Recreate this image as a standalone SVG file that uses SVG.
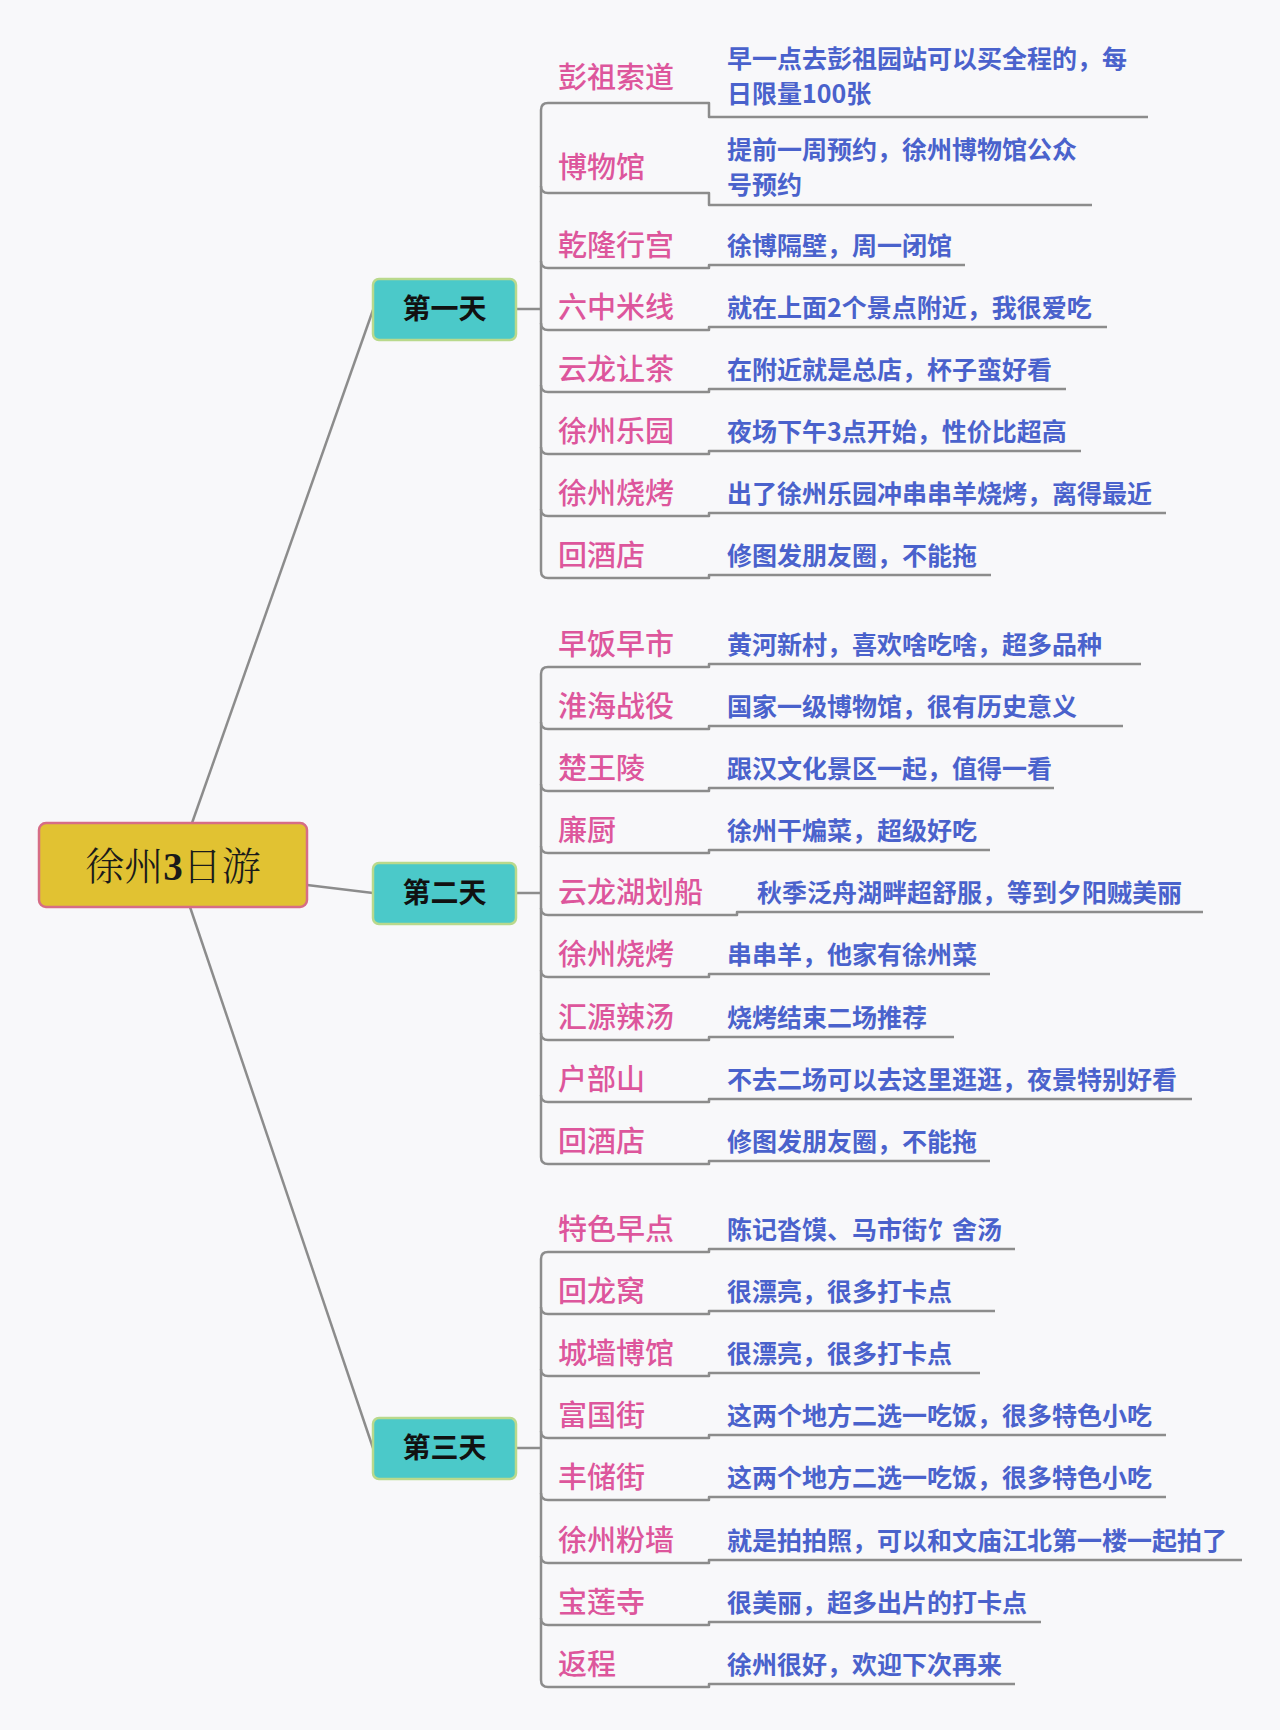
<svg xmlns="http://www.w3.org/2000/svg" width="1280" height="1730" viewBox="0 0 1280 1730">
<style>
.ln{fill:none;stroke:#8c8c8c;stroke-width:2.5;stroke-linejoin:round}
.lb{font-family:"Noto Sans CJK SC","Noto Sans",sans-serif;font-size:29px;font-weight:500;fill:#dd569c}
.nt{font-family:"Noto Sans CJK SC","Noto Sans",sans-serif;font-size:25px;font-weight:700;fill:#4a62cc}
.dayb{fill:#4bc9c9;stroke:#b9d98c;stroke-width:2.5}
.dayt{font-family:"Noto Sans CJK SC","Noto Sans",sans-serif;font-size:28px;font-weight:700;fill:#111;text-anchor:middle}
</style>
<rect width="1280" height="1730" fill="#f8f8fa"/>
<g id="connectors">
<path class="ln" d="M192,823 L373,310"/>
<path class="ln" d="M307,885 L373,893"/>
<path class="ln" d="M190,907 L373,1448"/>
<path class="ln" d="M516,309 H541"/>
<path class="ln" d="M516,893 H541"/>
<path class="ln" d="M516,1448 H541"/>
<path class="ln" d="M541,110 V571"/>
<path class="ln" d="M541,674 V1157"/>
<path class="ln" d="M541,1259 V1680"/>
<path class="ln" d="M541,110 Q541,103 548,103 H709 V117 H1148"/>
<path class="ln" d="M541,186 Q541,193 548,193 H709 V205 H1092"/>
<path class="ln" d="M541,261 Q541,268 548,268 H709 V265 H965"/>
<path class="ln" d="M541,323 Q541,330 548,330 H709 V327 H1107"/>
<path class="ln" d="M541,385 Q541,392 548,392 H709 V389 H1066"/>
<path class="ln" d="M541,447 Q541,454 548,454 H709 V451 H1081"/>
<path class="ln" d="M541,509 Q541,516 548,516 H709 V513 H1166"/>
<path class="ln" d="M541,571 Q541,578 548,578 H709 V575 H991"/>
<path class="ln" d="M541,674 Q541,667 548,667 H709 V664 H1141"/>
<path class="ln" d="M541,722 Q541,729 548,729 H709 V726 H1123"/>
<path class="ln" d="M541,784 Q541,791 548,791 H709 V788 H1054"/>
<path class="ln" d="M541,846 Q541,853 548,853 H709 V850 H990"/>
<path class="ln" d="M541,908 Q541,915 548,915 H737 V912 H1203"/>
<path class="ln" d="M541,970 Q541,977 548,977 H709 V974 H990"/>
<path class="ln" d="M541,1033 Q541,1040 548,1040 H709 V1037 H954"/>
<path class="ln" d="M541,1095 Q541,1102 548,1102 H709 V1099 H1192"/>
<path class="ln" d="M541,1157 Q541,1164 548,1164 H709 V1161 H990"/>
<path class="ln" d="M541,1259 Q541,1252 548,1252 H709 V1249 H1015"/>
<path class="ln" d="M541,1307 Q541,1314 548,1314 H709 V1311 H995"/>
<path class="ln" d="M541,1369 Q541,1376 548,1376 H709 V1373 H980"/>
<path class="ln" d="M541,1431 Q541,1438 548,1438 H709 V1435 H1166"/>
<path class="ln" d="M541,1493 Q541,1500 548,1500 H709 V1497 H1166"/>
<path class="ln" d="M541,1556 Q541,1563 548,1563 H709 V1560 H1242"/>
<path class="ln" d="M541,1618 Q541,1625 548,1625 H709 V1622 H1041"/>
<path class="ln" d="M541,1680 Q541,1687 548,1687 H709 V1684 H1015"/>
</g>
<g id="root">
<rect x="39" y="823" width="268" height="84" rx="7" fill="#e1c232" stroke="#d66d86" stroke-width="2.5"/>
<text x="173" y="880" text-anchor="middle" font-family="'Noto Serif CJK SC','Noto Sans CJK SC',serif" font-size="39" font-weight="300" fill="#1a1a1a">徐州<tspan font-family="'Liberation Serif',serif" font-weight="700">3</tspan>日游</text>
</g>
<g id="day1"><rect class="dayb" x="373" y="279" width="143" height="61" rx="6"/><text class="dayt" x="444.5" y="319">第一天</text></g>
<g id="day2"><rect class="dayb" x="373" y="863" width="143" height="61" rx="6"/><text class="dayt" x="444.5" y="903">第二天</text></g>
<g id="day3"><rect class="dayb" x="373" y="1418" width="143" height="61" rx="6"/><text class="dayt" x="444.5" y="1458">第三天</text></g>
<g id="d1-1"><text class="lb" x="558" y="88">彭祖索道</text><text class="nt" x="727" y="68">早一点去彭祖园站可以买全程的，每</text><text class="nt" x="727" y="103">日限量100张</text></g>
<g id="d1-2"><text class="lb" x="558" y="178">博物馆</text><text class="nt" x="727" y="159">提前一周预约，徐州博物馆公众</text><text class="nt" x="727" y="194">号预约</text></g>
<g id="d1-3"><text class="lb" x="558" y="256">乾隆行宫</text><text class="nt" x="727" y="255">徐博隔壁，周一闭馆</text></g>
<g id="d1-4"><text class="lb" x="558" y="318">六中米线</text><text class="nt" x="727" y="317">就在上面2个景点附近，我很爱吃</text></g>
<g id="d1-5"><text class="lb" x="558" y="380">云龙让茶</text><text class="nt" x="727" y="379">在附近就是总店，杯子蛮好看</text></g>
<g id="d1-6"><text class="lb" x="558" y="442">徐州乐园</text><text class="nt" x="727" y="441">夜场下午3点开始，性价比超高</text></g>
<g id="d1-7"><text class="lb" x="558" y="504">徐州烧烤</text><text class="nt" x="727" y="503">出了徐州乐园冲串串羊烧烤，离得最近</text></g>
<g id="d1-8"><text class="lb" x="558" y="566">回酒店</text><text class="nt" x="727" y="565">修图发朋友圈，不能拖</text></g>
<g id="d2-1"><text class="lb" x="558" y="655">早饭早市</text><text class="nt" x="727" y="654">黄河新村，喜欢啥吃啥，超多品种</text></g>
<g id="d2-2"><text class="lb" x="558" y="717">淮海战役</text><text class="nt" x="727" y="716">国家一级博物馆，很有历史意义</text></g>
<g id="d2-3"><text class="lb" x="558" y="779">楚王陵</text><text class="nt" x="727" y="778">跟汉文化景区一起，值得一看</text></g>
<g id="d2-4"><text class="lb" x="558" y="841">廉厨</text><text class="nt" x="727" y="840">徐州干煸菜，超级好吃</text></g>
<g id="d2-5"><text class="lb" x="558" y="903">云龙湖划船</text><text class="nt" x="757" y="902">秋季泛舟湖畔超舒服，等到夕阳贼美丽</text></g>
<g id="d2-6"><text class="lb" x="558" y="965">徐州烧烤</text><text class="nt" x="727" y="964">串串羊，他家有徐州菜</text></g>
<g id="d2-7"><text class="lb" x="558" y="1028">汇源辣汤</text><text class="nt" x="727" y="1027">烧烤结束二场推荐</text></g>
<g id="d2-8"><text class="lb" x="558" y="1090">户部山</text><text class="nt" x="727" y="1089">不去二场可以去这里逛逛，夜景特别好看</text></g>
<g id="d2-9"><text class="lb" x="558" y="1152">回酒店</text><text class="nt" x="727" y="1151">修图发朋友圈，不能拖</text></g>
<g id="d3-1"><text class="lb" x="558" y="1240">特色早点</text><text class="nt" x="727" y="1239">陈记沓馍、马市街饣舍汤</text></g>
<g id="d3-2"><text class="lb" x="558" y="1302">回龙窝</text><text class="nt" x="727" y="1301">很漂亮，很多打卡点</text></g>
<g id="d3-3"><text class="lb" x="558" y="1364">城墙博馆</text><text class="nt" x="727" y="1363">很漂亮，很多打卡点</text></g>
<g id="d3-4"><text class="lb" x="558" y="1426">富国街</text><text class="nt" x="727" y="1425">这两个地方二选一吃饭，很多特色小吃</text></g>
<g id="d3-5"><text class="lb" x="558" y="1488">丰储街</text><text class="nt" x="727" y="1487">这两个地方二选一吃饭，很多特色小吃</text></g>
<g id="d3-6"><text class="lb" x="558" y="1551">徐州粉墙</text><text class="nt" x="727" y="1550">就是拍拍照，可以和文庙江北第一楼一起拍了</text></g>
<g id="d3-7"><text class="lb" x="558" y="1613">宝莲寺</text><text class="nt" x="727" y="1612">很美丽，超多出片的打卡点</text></g>
<g id="d3-8"><text class="lb" x="558" y="1675">返程</text><text class="nt" x="727" y="1674">徐州很好，欢迎下次再来</text></g>
</svg>
